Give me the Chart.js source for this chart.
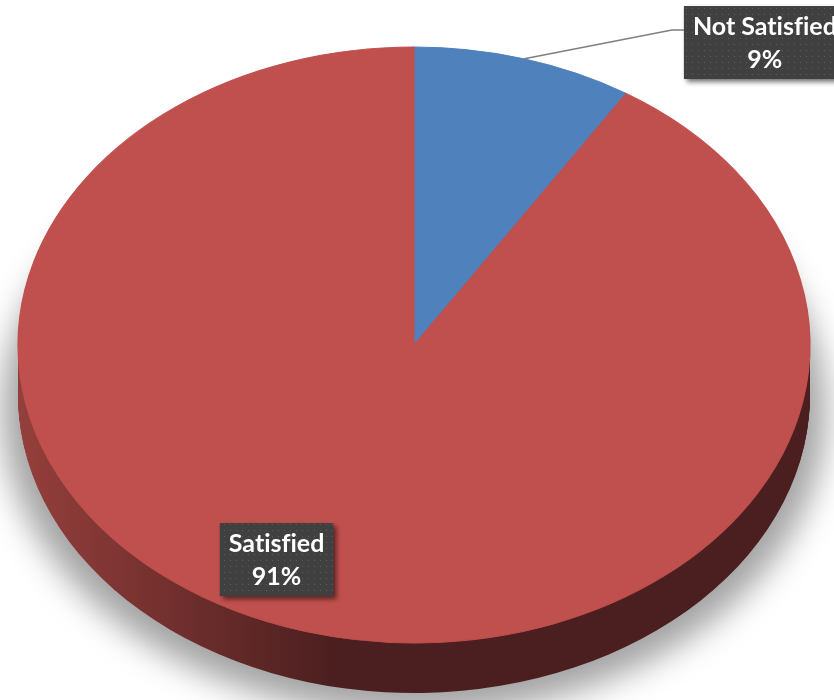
<!DOCTYPE html>
<html>
<head>
<meta charset="utf-8">
<script src="https://cdn.jsdelivr.net/npm/chart.js@4.4.0/dist/chart.umd.min.js"></script>
<style>
  html, body { margin: 0; padding: 0; background: #fff; }
  #wrap { width: 834px; height: 700px; }
</style>
</head>
<body>
<div id="wrap"><canvas id="pieChart" width="834" height="700"></canvas></div>
<script>
/* ===== DATOS ===== */
const labels = ['Not Satisfied', 'Satisfied'];
const values = [9, 91];
const colors = ['#4F81BD', '#C0504D'];
const sideColors = [['#3A5F8C', '#22384F'], ['#953F3C', '#4B1F1F']];

/* ===== GEOMETRÍA DEL PASTEL 3D ===== */
const ELL = { cx: 414, cy: 345, rx: 396, ry: 298, depth: 50 };
// centro de cada etiqueta, en fracciones del radio de la elipse
const labelPos = [[0.886, -1.015], [-0.347, 0.72]];
const total = values.reduce((a, b) => a + b, 0);

function applyEllipse(ctx, arc) {
    ctx.translate(ELL.cx, ELL.cy);
    ctx.scale(ELL.rx / arc.outerRadius, ELL.ry / arc.outerRadius);
    ctx.translate(-arc.x, -arc.y);
}

function dotPattern(ctx) {
    const c = document.createElement('canvas');
    c.width = 6; c.height = 6;
    const p = c.getContext('2d');
    p.fillStyle = '#404040';
    p.fillRect(0, 0, 6, 6);
    p.fillStyle = '#5c5c5c';
    p.fillRect(2, 2, 1, 1);
    return ctx.createPattern(c, 'repeat');
}

const pie3d = {
    id: 'pie3d',
    beforeDatasetsDraw(chart) {
        const ctx = chart.ctx;
        const arcs = chart.getDatasetMeta(0).data;
        const a0 = arcs[0];

        // sombra difusa
        ctx.save();
        ctx.filter = 'blur(16px)';
        ctx.fillStyle = 'rgba(0,0,0,0.36)';
        ctx.beginPath();
        ctx.ellipse(ELL.cx, ELL.cy + 66, ELL.rx + 16, ELL.ry + 6, 0, 0, Math.PI * 2);
        ctx.fill();
        ctx.restore();

        // lateral del pastel
        for (let k = ELL.depth; k > 0; k--) {
            ctx.save();
            ctx.translate(0, k);
            applyEllipse(ctx, a0);
            arcs.forEach((arc, i) => {
                const r = arc.outerRadius;
                const g = ctx.createLinearGradient(arc.x - r, 0, arc.x - 0.2 * r, 0);
                g.addColorStop(0, sideColors[i][0]);
                g.addColorStop(1, sideColors[i][1]);
                ctx.fillStyle = g;
                ctx.beginPath();
                ctx.moveTo(arc.x, arc.y);
                ctx.arc(arc.x, arc.y, r, arc.startAngle, arc.endAngle);
                ctx.closePath();
                ctx.fill();
            });
            ctx.restore();
        }

        ctx.save();
        applyEllipse(ctx, a0);
    },
    afterDatasetsDraw(chart) {
        chart.ctx.restore();
    },
    afterDraw(chart) {
        const ctx = chart.ctx;
        const arcs = chart.getDatasetMeta(0).data;
        ctx.save();
        ctx.font = 'bold 25px Lato';
        ctx.textRendering = 'optimizeSpeed';
        arcs.forEach((arc, i) => {
            const pct = Math.round(values[i] / total * 100) + '%';
            const w = Math.max(ctx.measureText(labels[i]).width, ctx.measureText(pct).width) + 18;
            const h = 73;
            const cx = ELL.cx + labelPos[i][0] * ELL.rx;
            const cy = ELL.cy + labelPos[i][1] * ELL.ry;
            const left = cx - w / 2, top = cy - h / 2;

            // línea guía para la etiqueta fuera del pastel
            if (i === 0) {
                const mid = (arc.startAngle + arc.endAngle) / 2;
                ctx.strokeStyle = '#7F7F7F';
                ctx.lineWidth = 1.5;
                ctx.beginPath();
                ctx.moveTo(ELL.cx + Math.cos(mid) * ELL.rx, ELL.cy + Math.sin(mid) * ELL.ry);
                ctx.lineTo(left - 12, top + 24);
                ctx.lineTo(left, top + 24);
                ctx.stroke();
            }

            ctx.save();
            ctx.shadowColor = 'rgba(0,0,0,0.55)';
            ctx.shadowBlur = 5;
            ctx.shadowOffsetX = 3;
            ctx.shadowOffsetY = 3;
            ctx.fillStyle = dotPattern(ctx);
            ctx.fillRect(left, top, w, h);
            ctx.restore();

            ctx.fillStyle = '#FFFFFF';
            ctx.textAlign = 'center';
            ctx.textBaseline = 'alphabetic';
            ctx.fillText(labels[i], cx, top + 29);
            ctx.fillText(pct, cx, top + 62);
        });
        ctx.restore();
    }
};

const chart = new Chart(document.getElementById('pieChart'), {
    type: 'pie',
    data: {
        labels: labels,
        datasets: [{
            data: values,
            backgroundColor: colors,
            borderColor: colors,
            borderWidth: 1
        }]
    },
    options: {
        responsive: false,
        devicePixelRatio: 1,
        animation: false,
        layout: { padding: 0 },
        plugins: {
            legend: { display: false },
            tooltip: { enabled: false }
        }
    },
    plugins: [pie3d]
});
</script>
</body>
</html>
